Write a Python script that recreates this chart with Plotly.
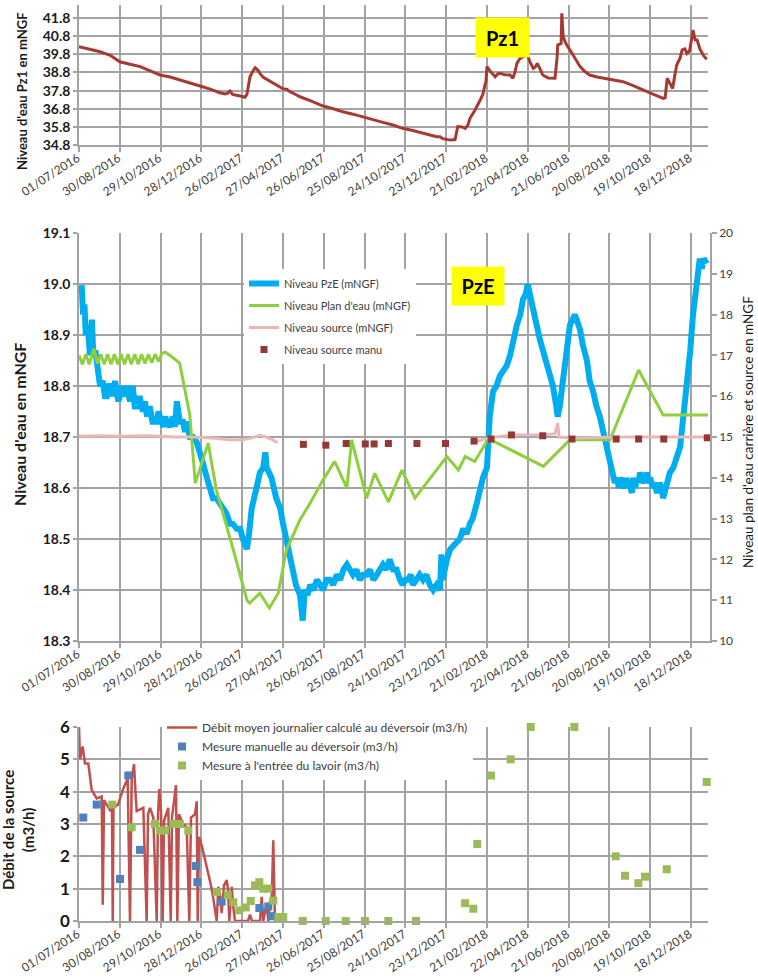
import plotly.graph_objects as go
import pandas as pd

W, H = 758, 980
START = pd.Timestamp("2016-07-01")

TICK_LABELS = ["01/07/2016", "30/08/2016", "29/10/2016", "28/12/2016", "26/02/2017",
               "27/04/2017", "26/06/2017", "25/08/2017", "24/10/2017", "23/12/2017",
               "21/02/2018", "22/04/2018", "21/06/2018", "20/08/2018", "19/10/2018",
               "18/12/2018"]

# ---------------- Pz1 (top panel) ----------------
PZ1_DAY = [0, 31, 46, 60, 75, 90, 104, 119, 134, 148, 163, 178, 193, 207, 215, 219, 222, 226,
           237, 244, 247, 248.5, 251.5, 256, 259, 263, 266, 271, 281, 291, 300, 306, 310, 318,
           325, 340, 359, 374, 388, 403, 418, 432, 447, 462, 476, 491, 506, 521, 526, 531, 535,
           546, 553, 557, 563, 568, 572, 575, 582, 590, 594, 597, 598.5, 600, 604, 612, 616,
           619, 626, 634, 638, 641, 644, 648, 653, 659, 663, 668, 671, 674, 678, 682, 690, 700,
           703, 704, 709, 710, 712, 716, 722, 729, 737, 744, 751, 762, 771, 785, 800, 815, 829,
           844, 854, 859, 862, 865, 869, 873, 876, 879, 884, 887, 891, 894, 898, 903, 906, 909,
           913, 918, 923]
PZ1_LEVEL = [40.22, 39.94, 39.75, 39.39, 39.25, 39.12, 38.90, 38.66, 38.55, 38.38, 38.22, 38.05,
             37.88, 37.68, 37.62, 37.66, 37.78, 37.59, 37.50, 37.43, 37.60, 37.92, 38.56, 38.90,
             39.06, 38.93, 38.75, 38.53, 38.30, 38.11, 37.90, 37.87, 37.74, 37.60, 37.46, 37.25,
             36.95, 36.80, 36.63, 36.50, 36.36, 36.20, 36.05, 35.90, 35.72, 35.60, 35.45, 35.32,
             35.26, 35.25, 35.15, 35.07, 35.10, 35.81, 35.80, 35.72, 35.90, 36.27, 36.70, 37.28,
             37.60, 38.11, 38.30, 39.12, 38.90, 38.56, 38.72, 38.75, 38.68, 38.66, 38.48, 38.80,
             39.30, 39.55, 39.67, 39.80, 39.40, 39.03, 39.10, 39.30, 39.00, 38.66, 38.50, 38.48,
             39.60, 40.31, 40.40, 42.06, 40.77, 40.40, 40.04, 39.60, 39.12, 38.85, 38.66, 38.55,
             38.48, 38.40, 38.29, 38.07, 37.83, 37.60, 37.45, 37.37, 37.40, 38.48, 38.20, 37.92,
             38.60, 39.21, 39.60, 40.04, 40.10, 39.85, 40.00, 41.14, 40.60, 40.59, 40.10, 39.76,
             39.52]

# ---------------- PzE (middle panel, left axis) ----------------
PZE_DAY = [4, 6, 8, 10, 13, 16, 19, 21, 24, 26, 29, 31, 35, 38, 41, 44, 46, 50, 53, 55, 58, 60,
           63, 66, 70, 75, 79, 82, 85, 89, 94, 97, 100, 104, 108, 114, 117, 119, 124, 127, 129,
           134, 138, 141, 144, 148, 153, 156, 158, 163, 168, 173, 178, 182, 188, 193, 197, 202,
           207, 212, 217, 222, 226, 232, 237, 241, 245, 247, 250, 254, 261, 266, 271, 274, 276,
           283, 290, 296, 300, 305, 310, 315, 319, 325, 329, 332, 336, 340, 345, 350, 355, 359,
           364, 369, 374, 379, 384, 389, 394, 398, 403, 408, 413, 418, 423, 428, 433, 438, 443,
           447, 452, 457, 462, 467, 472, 476, 480, 484, 488, 491, 496, 501, 506, 511, 516, 521,
           526, 531, 533, 535, 541, 546, 553, 560, 565, 570, 575, 579, 585, 590, 594, 600, 601,
           604, 609, 614, 619, 624, 629, 634, 638, 644, 649, 653, 657, 660, 663, 667, 673, 678,
           682, 688, 693, 697, 702, 704, 707, 712, 717, 722, 726, 729, 732, 737, 741, 747, 751,
           756, 761, 766, 771, 776, 781, 785, 788, 791, 794, 796, 800, 803, 805, 808, 810, 813,
           815, 818, 820, 823, 825, 829, 832, 835, 838, 840, 844, 847, 850, 854, 857, 859, 864,
           869, 874, 879, 884, 888, 894, 899, 903, 906, 909, 913, 916, 919, 923]
PZE_LEVEL = [18.998, 18.94, 18.96, 18.90, 18.92, 18.86, 18.93, 18.86, 18.87, 18.84, 18.82,
             18.80, 18.81, 18.78, 18.78, 18.80, 18.80, 18.78, 18.81, 18.79, 18.77, 18.78, 18.80,
             18.78, 18.80, 18.77, 18.80, 18.76, 18.76, 18.78, 18.75, 18.77, 18.74, 18.76, 18.73,
             18.73, 18.75, 18.74, 18.72, 18.74, 18.73, 18.72, 18.74, 18.72, 18.77, 18.73, 18.73,
             18.71, 18.73, 18.70, 18.70, 18.69, 18.67, 18.65, 18.62, 18.60, 18.58, 18.58, 18.57,
             18.56, 18.55, 18.53, 18.53, 18.52, 18.52, 18.50, 18.49, 18.48, 18.51, 18.56, 18.60,
             18.63, 18.64, 18.67, 18.64, 18.62, 18.58, 18.56, 18.53, 18.50, 18.46, 18.43, 18.41,
             18.39, 18.34, 18.40, 18.39, 18.41, 18.40, 18.42, 18.41, 18.40, 18.42, 18.42, 18.41,
             18.43, 18.42, 18.44, 18.45, 18.44, 18.43, 18.44, 18.42, 18.43, 18.43, 18.44, 18.42,
             18.43, 18.44, 18.45, 18.44, 18.46, 18.44, 18.44, 18.42, 18.41, 18.42, 18.42, 18.43,
             18.41, 18.42, 18.43, 18.42, 18.43, 18.41, 18.40, 18.41, 18.40, 18.47, 18.42, 18.46,
             18.48, 18.49, 18.50, 18.52, 18.51, 18.53, 18.54, 18.57, 18.60, 18.62, 18.64, 18.68,
             18.74, 18.79, 18.80, 18.82, 18.83, 18.84, 18.86, 18.89, 18.92, 18.94, 18.97, 18.98,
             19.00, 18.98, 18.95, 18.92, 18.89, 18.87, 18.84, 18.81, 18.80, 18.76, 18.74, 18.76,
             18.81, 18.86, 18.92, 18.93, 18.94, 18.93, 18.91, 18.88, 18.85, 18.81, 18.79, 18.76,
             18.74, 18.71, 18.68, 18.65, 18.63, 18.61, 18.62, 18.60, 18.62, 18.61, 18.60, 18.62,
             18.60, 18.61, 18.59, 18.62, 18.60, 18.62, 18.61, 18.63, 18.62, 18.61, 18.63, 18.61,
             18.62, 18.60, 18.61, 18.59, 18.61, 18.60, 18.58, 18.61, 18.63, 18.64, 18.66, 18.68,
             18.73, 18.80, 18.87, 18.94, 18.97, 19.02, 19.05, 19.03, 19.05, 19.04]

# ---------------- Plan d'eau (middle panel, right axis) ----------------
PLAN_DAY = [0, 5, 10, 15, 22, 27, 32, 37, 42, 47, 52, 57, 62, 67, 72, 77, 82, 87, 92, 97, 102,
            107, 112, 117, 122, 127, 134, 148, 163, 171, 190, 202, 227, 247, 251, 266, 280, 293,
            305, 325, 340, 359, 376, 394, 401, 423, 435, 455, 475, 494, 541, 558, 568, 582, 602,
            683, 722, 781, 823, 859, 925]
PLAN_LEVEL = [17.00, 16.78, 17.03, 16.78, 17.17, 16.80, 17.03, 16.78, 17.03, 16.78, 17.03, 16.78,
              17.03, 16.78, 17.03, 16.78, 17.03, 16.78, 17.03, 16.80, 17.03, 16.82, 17.03, 16.85,
              17.05, 17.08, 17.00, 16.81, 15.54, 13.87, 14.85, 13.70, 12.23, 11.00, 10.93, 11.17,
              10.81, 11.17, 12.23, 12.97, 13.38, 13.95, 14.40, 13.75, 14.93, 13.50, 14.11, 13.41,
              14.19, 13.50, 14.52, 14.19, 14.52, 14.40, 14.96, 14.28, 14.93, 14.93, 16.64, 15.54,
              15.54]

# ---------------- Niveau source (right axis) ----------------
SOURCE_DAY = [0, 30, 60, 100, 140, 170, 200, 220, 240, 255, 265, 275, 285, 292, None,
              581, 605, 636, 683, 700, 704, 706, 725, 790, 925]
SOURCE_LEVEL = [15.02, 15.03, 15.02, 15.03, 15.00, 15.00, 14.97, 14.93, 14.93, 14.98, 15.04,
                15.00, 14.93, 14.86, None,
                14.88, 14.98, 15.05, 15.05, 15.08, 15.34, 15.00, 14.97, 15.00, 15.00]

SOURCE_MANU_DAY = [330, 363, 393, 421, 434, 455, 497, 539, 581, 606, 636, 682, 725, 790, 823,
                   860, 924]
SOURCE_MANU_LEVEL = [14.82, 14.80, 14.84, 14.83, 14.83, 14.84, 14.84, 14.84, 14.90, 14.95, 15.05,
                     15.03, 14.95, 14.95, 14.95, 14.95, 14.98]

# ---------------- Débit (bottom panel) ----------------
DEBIT_DAY = [0, 1.5, 5.4, 8.8, 13.7, 18.7, 26, 33.4, 34.9, 36.8, 45.6, 48.5, 49.6, 50.7, 57.4,
             65.2, 71.6, 75, 77.5, 80.9, 83.3, 84.8, 94.6, 99.5, 101.5, 104.4, 109.3, 114.3,
             116.2, 118.1, 120.6, 123.1, 125, 131.3, 134.9, 136.8, 142.6, 144.6, 147, 153, 158.4,
             162.2, 164.7, 170.6, 173.1, 174.6, 176.5, 180.9, 185.3, 190.2, 194.1, 197.5, 202.5,
             204.9, 207.4, 209.8, 213.2, 217.2, 219.1, 221, 224.6, 226.5, 229.4, 248.5, 251.5,
             254.4, 266.2, 268.7, 271, 276, 278.4, 280.9, 283.4, 285.7, 288.2]
DEBIT_VALUE = [6.0, 5.0, 5.4, 4.87, 4.87, 4.05, 3.79, 3.85, 0.5, 3.74, 3.43, 3.5, 0.0, 3.5, 3.6,
               4.1, 4.4, 0.0, 4.4, 4.85, 3.9, 3.4, 3.5, 0.0, 3.3, 3.5, 3.2, 0.0, 3.3, 4.08, 3.4,
               0.0, 3.1, 3.5, 0.0, 3.2, 4.2, 0.0, 3.3, 3.0, 2.9, 0.0, 3.2, 3.3, 3.7, 0.0, 2.6,
               2.3, 1.9, 1.5, 1.1, 0.7, 0.0, 1.06, 0.8, 0.24, 1.1, 1.27, 1.0, 0.0, 1.06, 0.5,
               0.0, 0.0, 0.2, 0.0, 0.0, 0.75, 0.0, 0.55, 0.0, 0.6, 0.65, 2.5, 0.0]

MANUEL_DAY = [6.3, 26, 60.3, 72.5, 89.7, 172, 174, 209.8, 265.2, 278.4, 283.4]
MANUEL_VALUE = [3.2, 3.6, 1.3, 4.5, 2.2, 1.7, 1.2, 0.6, 0.4, 0.45, 0.15]

LAVOIR_DAY = [49, 77.5, 111.8, 119.1, 126.5, 138.7, 148.5, 160.7, 202.5, 218.7, 226.9, 235.7,
              245.1, 252.5, 258.8, 265.2, 271, 278.4, 285.7, 293.1, 300.4, 329, 362.8, 392.2,
              420.6, 454.9, 495.6, 567.7, 579.9, 585.7, 605.9, 634.9, 664.3, 728.4, 789.3, 803,
              822.5, 832.4, 864.3, 923.1]
LAVOIR_VALUE = [3.6, 2.9, 3.0, 2.8, 2.8, 3.0, 3.0, 2.8, 0.9, 0.8, 0.58, 0.33, 0.42, 0.62, 1.1,
                1.2, 1.0, 1.0, 0.63, 0.12, 0.12, 0.0, 0.0, 0.0, 0.0, 0.0, 0.0, 0.55, 0.38, 2.38,
                4.5, 5.0, 6.0, 6.0, 2.0, 1.4, 1.17, 1.37, 1.6, 4.3]


def to_dates(days):
    return [None if d is None else START + pd.Timedelta(days=float(d)) for d in days]


tick_dates = [pd.to_datetime(t, format="%d/%m/%Y") for t in TICK_LABELS]
GRID = "#A3A3A3"
FONT = "Lato"

fig = go.Figure()

# top
fig.add_trace(go.Scatter(x=to_dates(PZ1_DAY), y=PZ1_LEVEL, mode="lines", xaxis="x", yaxis="y",
                         line=dict(color="#A63A33", width=3), showlegend=False))
# middle
fig.add_trace(go.Scatter(x=to_dates(PZE_DAY), y=PZE_LEVEL, mode="lines", xaxis="x2", yaxis="y2",
                         name="Niveau PzE (mNGF)", legend="legend", legendgroup="a",
                         line=dict(color="#00AEEF", width=6)))
fig.add_trace(go.Scatter(x=to_dates(PLAN_DAY), y=PLAN_LEVEL, mode="lines", xaxis="x2", yaxis="y3",
                         name="Niveau Plan d'eau (mNGF)", legend="legend", legendgroup="b",
                         line=dict(color="#8DCF3F", width=3)))
fig.add_trace(go.Scatter(x=to_dates(SOURCE_DAY), y=SOURCE_LEVEL, mode="lines", xaxis="x2",
                         yaxis="y3", name="Niveau source (mNGF)", legend="legend", legendgroup="c",
                         connectgaps=False, line=dict(color="#E6B9B8", width=3)))
fig.add_trace(go.Scatter(x=to_dates(SOURCE_MANU_DAY), y=SOURCE_MANU_LEVEL, mode="markers",
                         xaxis="x2", yaxis="y3", name="Niveau source manu", legend="legend",
                         legendgroup="d", cliponaxis=False,
                         marker=dict(symbol="square", size=7, color="#953735")))
# bottom
fig.add_trace(go.Scatter(x=to_dates(DEBIT_DAY), y=DEBIT_VALUE, mode="lines", xaxis="x3",
                         yaxis="y4", name="Débit moyen journalier calculé au déversoir (m3/h)",
                         legend="legend2", line=dict(color="#C0504D", width=2.5)))
fig.add_trace(go.Scatter(x=to_dates(MANUEL_DAY), y=MANUEL_VALUE, mode="markers", xaxis="x3",
                         yaxis="y4", name="Mesure manuelle au déversoir (m3/h)",
                         legend="legend2", cliponaxis=False,
                         marker=dict(symbol="square", size=8, color="#4F81BD")))
fig.add_trace(go.Scatter(x=to_dates(LAVOIR_DAY), y=LAVOIR_VALUE, mode="markers", xaxis="x3",
                         yaxis="y4", name="Mesure à l'entrée du lavoir (m3/h)",
                         legend="legend2", cliponaxis=False,
                         marker=dict(symbol="square", size=8, color="#9BBB59")))


def xax(anchor, x1, days_end):
    return dict(type="date", anchor=anchor, domain=[79 / W, x1 / W],
                range=[START, START + pd.Timedelta(days=days_end)], automargin=False,
                tickmode="array", tickvals=tick_dates, ticktext=TICK_LABELS, tickangle=-33,
                ticklabelposition="outside left",
                showgrid=True, gridcolor=GRID, gridwidth=1.5, showline=True, linecolor=GRID,
                linewidth=1.5, ticks="outside", ticklen=5, tickcolor=GRID, tickwidth=1.5,
                tickfont=dict(family=FONT, size=12, color="#404040"), zeroline=False)


def yax(anchor, dom, rng, tick0, dtick, fmt, size):
    return dict(anchor=anchor, domain=[1 - dom[1] / H, 1 - dom[0] / H], range=rng,
                automargin=False,
                tick0=tick0, dtick=dtick, tickformat=fmt, showgrid=True, gridcolor=GRID,
                gridwidth=1.5, showline=True, linecolor=GRID, linewidth=1.5, ticks="outside",
                ticklen=4, tickcolor=GRID, tickwidth=1.5, zeroline=False,
                tickfont=dict(family=FONT, size=size, color="#1A1A1A", weight="bold"))


fig.update_layout(
    width=W, height=H, margin=dict(l=0, r=0, t=0, b=0, autoexpand=False),
    paper_bgcolor="white", plot_bgcolor="white",
    font=dict(family=FONT, color="#404040"),
    xaxis=xax("y", 708, 925),
    yaxis=yax("x", (5, 145), [34.8, 42.52], 34.8, 1, ".1f", 14),
    xaxis2=xax("y2", 710, 928),
    yaxis2=yax("x2", (233, 641), [18.3, 19.1], 18.3, 0.1, ".1f", 14),
    yaxis3=dict(anchor="x2", overlaying="y2", side="right", range=[10, 20], dtick=1,
                automargin=False,
                showgrid=False, showline=True, linecolor=GRID, linewidth=1.5, ticks="outside",
                ticklen=5, tickcolor=GRID, tickwidth=1.5, zeroline=False,
                tickfont=dict(family=FONT, size=12, color="#404040")),
    xaxis3=xax("y4", 708, 925),
    yaxis4=yax("x3", (727, 921), [0, 6], 0, 1, "d", 17),
    legend=dict(x=244 / W, y=1 - 269 / H, xanchor="left", yanchor="top", bgcolor="white",
                borderwidth=0, font=dict(family=FONT, size=11, color="#404040"),
                tracegroupgap=3, itemwidth=30),
    legend2=dict(x=162 / W, y=1 - 713 / H, xanchor="left", yanchor="top", bgcolor="white",
                 borderwidth=0, font=dict(family=FONT, size=12, color="#404040"),
                 itemwidth=30),
    annotations=[
        dict(text="<b>Niveau d'eau Pz1 en mNGF</b>", x=22 / W, y=1 - 91 / H, xref="paper",
             yref="paper", textangle=-90, showarrow=False, xanchor="center", yanchor="middle",
             font=dict(family=FONT, size=13, color="#1A1A1A")),
        dict(text="<b>Niveau d'eau en mNGF</b>", x=19 / W, y=1 - 425 / H, xref="paper",
             yref="paper", textangle=-90, showarrow=False, xanchor="center", yanchor="middle",
             font=dict(family=FONT, size=16, color="#1A1A1A")),
        dict(text="Niveau plan d'eau carrière et source en mNGF", x=748 / W, y=1 - 432 / H,
             xref="paper", yref="paper", textangle=-90, showarrow=False, xanchor="center",
             yanchor="middle", font=dict(family=FONT, size=13.5, color="#1A1A1A")),
        dict(text="<b>Débit de la source<br>(m3/h)</b>", x=18 / W, y=1 - 830 / H,
             xref="paper", yref="paper", textangle=-90, showarrow=False, xanchor="center",
             yanchor="middle", font=dict(family=FONT, size=15, color="#1A1A1A")),
        dict(text="<b>Pz1</b>", x=502.5 / W, y=1 - 37.5 / H, xref="paper", yref="paper",
             showarrow=False, bgcolor="#FFFF00", width=53, height=39, borderpad=0,
             xanchor="center", yanchor="middle",
             font=dict(family=FONT, size=20, color="black")),
        dict(text="<b>PzE</b>", x=478 / W, y=1 - 286 / H, xref="paper", yref="paper",
             showarrow=False, bgcolor="#FFFF00", width=52, height=38, borderpad=0,
             xanchor="center", yanchor="middle",
             font=dict(family=FONT, size=20, color="black")),
    ],
)

fig.write_html("out.html", config={"displayModeBar": False},
               post_script="document.body.style.margin='0';")
